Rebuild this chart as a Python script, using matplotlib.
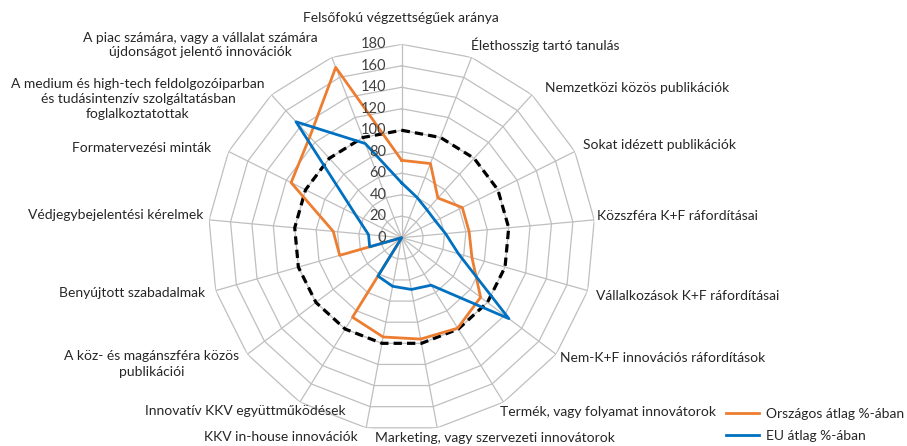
import numpy as np
import matplotlib.pyplot as plt
from matplotlib.lines import Line2D
import matplotlib.transforms as mtransforms

plt.rcParams['font.family'] = ['Lato', 'DejaVu Sans']

######################### Data #############################

categories = [
    "Felsőfokú végzettségűek aránya",
    "Élethosszig tartó tanulás",
    "Nemzetközi közös publikációk",
    "Sokat idézett publikációk",
    "Közszféra K+F ráfordításai",
    "Vállalkozások K+F ráfordításai",
    "Nem-K+F innovációs ráfordítások",
    "Termék, vagy folyamat innovátorok",
    "Marketing, vagy szervezeti innovátorok",
    "KKV in-house innovációk",
    "Innovatív KKV együttműködések",
    "A köz- és magánszféra közös\npublikációi",
    "Benyújtott szabadalmak",
    "Védjegybejelentési kérelmek",
    "Formatervezési minták",
    "A medium és high-tech feldolgozóiparban\nés tudásintenzív szolgáltatásban\nfoglalkoztatottak",
    "A piac számára, vagy a vállalat számára\nújdonságot jelentő innovációk",
]
orszagos = [72, 74, 50, 63, 63, 68, 92, 99, 96, 94, 87, 0, 60, 64, 115, 127, 170]
eu = [51, 40, 35, 35, 41, 55, 125, 52, 49, 46, 42, 0, 31, 31, 48, 146, 94]
eu_ref = [100] * 17
ticks = [0, 20, 40, 60, 80, 100, 120, 140, 160, 180]
legend_labels = ["Országos átlag %-ában", "EU átlag %-ában"]

######################### Layout #############################

W, H = 907, 446
# label anchors in pixels (x, y, ha)
label_pos = [
    (401, 18, 'center'), (471, 45, 'left'), (545, 88, 'left'), (583, 145, 'left'),
    (597, 216, 'left'), (596, 296, 'left'), (560, 358, 'left'), (500, 412, 'left'),
    (375, 438, 'left'), (358, 437, 'right'), (346, 411, 'right'), (152, 364, 'center'),
    (205, 293, 'right'), (203, 215, 'right'), (211, 148, 'right'), (138, 99, 'center'),
    (200, 45, 'center'),
]
orange = '#ED7D31'
blue = '#0070C0'
grid_c = '#BFBFBF'
text_c = '#262626'
fs = 10

n = len(categories)
angles = np.arange(n) * 2 * np.pi / n
closed = np.append(angles, angles[0])

def close(v):
    return np.append(v, v[0])

fig = plt.figure(figsize=(W / 100, H / 100), dpi=100)
cx, cy, rad = 401.7, 237.7, 193.4
ax = fig.add_axes([(cx - rad) / W, (H - cy - rad) / H, 2 * rad / W, 2 * rad / H], projection='polar')
ax.set_theta_zero_location('N')
ax.set_theta_direction(-1)
ax.set_ylim(0, 180)
ax.axis('off')

# spider web grid
for r in ticks[1:]:
    ax.plot(closed, [r] * (n + 1), color=grid_c, lw=0.9, zorder=1)
for a in angles:
    ax.plot([a, a], [0, 180], color=grid_c, lw=0.9, zorder=1)

ax.plot(closed, close(eu_ref), color='black', lw=2.3, ls=(0, (2.6, 1.6)), zorder=2)
ax.plot(closed, close(orszagos), color=orange, lw=2.0, zorder=3)
ax.plot(closed, close(eu), color=blue, lw=2.0, zorder=4)

off = mtransforms.offset_copy(ax.transData, fig=fig, x=-11, y=0, units='points')
for r in ticks:
    ax.text(0, r, str(r), transform=off, ha='right', va='center', fontsize=fs + 0.5,
            color='#404040', zorder=5)

for cat, (x, y, ha) in zip(categories, label_pos):
    fig.text(x / W, 1 - y / H, cat, ha=ha, va='center', fontsize=fs, color=text_c,
             multialignment='center', linespacing=1.3)

handles = [Line2D([], [], color=orange, lw=2.0), Line2D([], [], color=blue, lw=2.0)]
fig.legend(handles, legend_labels, loc='center left', bbox_to_anchor=(713 / W, 1 - 425 / H),
           frameon=False, fontsize=fs, handlelength=2.4, handletextpad=0.55,
           labelspacing=0.75, labelcolor=text_c)

fig.savefig('out.png', dpi=100)
